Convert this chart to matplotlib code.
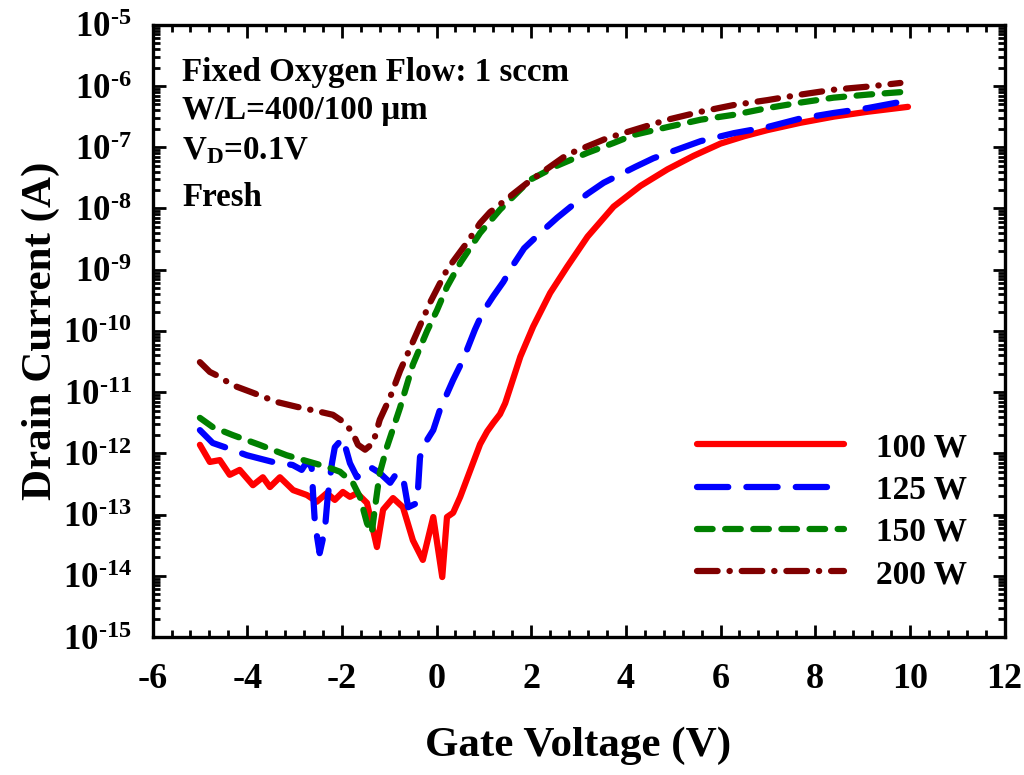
import matplotlib
matplotlib.use("Agg")
import matplotlib.pyplot as plt
import numpy as np
from matplotlib.ticker import FuncFormatter, LogLocator, MultipleLocator

plt.rcParams['font.family'] = ['Liberation Serif', 'DejaVu Serif']
plt.rcParams['font.weight'] = 'bold'
plt.rcParams['mathtext.fontset'] = 'custom'
plt.rcParams['mathtext.rm'] = 'Liberation Serif:bold'
plt.rcParams['mathtext.bf'] = 'Liberation Serif:bold'
plt.rcParams['mathtext.it'] = 'Liberation Serif:bold:italic'
plt.rcParams['axes.unicode_minus'] = False

# 100 W (log10 of drain current)
v100 = [-5.0, -4.79, -4.58, -4.37, -4.16, -3.88, -3.67, -3.52, -3.31, -3.03, -2.74, -2.53, -2.32,
        -2.15, -1.98, -1.83, -1.68, -1.47, -1.26, -1.13, -0.92, -0.71, -0.50, -0.29, -0.07, 0.12,
        0.22, 0.35, 0.50, 0.70, 0.92, 1.07, 1.20, 1.34, 1.45, 1.56, 1.77, 2.04, 2.40, 2.76, 3.19,
        3.74, 4.31, 4.88, 5.43, 6.0, 6.5, 6.99, 7.69, 8.39, 9.11, 9.96]
l100 = [-11.86, -12.14, -12.11, -12.35, -12.27, -12.52, -12.39, -12.55, -12.39, -12.60, -12.68, -12.79,
        -12.65, -12.76, -12.63, -12.71, -12.65, -12.81, -13.53, -12.92, -12.73, -12.88, -13.42, -13.74,
        -13.04, -14.02, -13.04, -12.97, -12.71, -12.30, -11.85, -11.64, -11.50, -11.36, -11.18, -10.92,
        -10.42, -9.93, -9.38, -8.95, -8.46, -7.97, -7.63, -7.36, -7.14, -6.94, -6.82, -6.72, -6.60,
        -6.50, -6.42, -6.34]

# 125 W
v125 = [-5.0, -4.73, -4.43, -4.01, -3.46, -3.04, -2.85, -2.74, -2.64, -2.61, -2.57, -2.47, -2.36,
        -2.30, -2.21, -2.15, -1.98, -1.83, -1.68, -1.41, -1.20, -0.98, -0.84, -0.71, -0.60, -0.41,
        -0.35, -0.20, -0.07, 0.07, 0.35, 0.56, 0.81, 0.98, 1.20, 1.41, 1.62, 1.85, 2.19, 2.55, 2.90,
        3.19, 3.53, 4.20, 4.58, 5.22, 5.58, 6.28, 6.99, 7.69, 8.39, 9.11, 9.80]
l125 = [-11.62, -11.83, -11.91, -12.03, -12.14, -12.19, -12.27, -12.14, -12.22, -12.65, -13.14, -13.63,
        -13.25, -12.71, -12.16, -11.90, -11.75, -12.16, -12.39, -12.22, -12.32, -12.48, -12.32, -12.39,
        -12.88, -12.81, -12.06, -11.78, -11.62, -11.29, -10.80, -10.47, -9.98, -9.69, -9.43, -9.20,
        -8.92, -8.65, -8.40, -8.15, -7.93, -7.76, -7.58, -7.32, -7.18, -7.00, -6.90, -6.77, -6.67,
        -6.53, -6.44, -6.36, -6.26]

# 150 W
v150 = [-5.0, -4.73, -4.31, -3.74, -3.17, -2.68, -2.32, -2.04, -1.77, -1.62, -1.47, -1.37, -1.30,
        -1.20, -1.05, -0.77, -0.50, -0.20, 0.01, 0.22, 0.50, 0.92, 1.34, 1.98, 2.55, 3.19, 3.74,
        4.16, 4.88, 5.58, 6.28, 6.99, 7.69, 8.39, 9.11, 9.80]
l150 = [-11.42, -11.57, -11.70, -11.86, -12.03, -12.14, -12.22, -12.30, -12.48, -12.71, -13.14, -13.30,
        -12.88, -12.32, -11.90, -11.25, -10.55, -10.00, -9.66, -9.28, -8.89, -8.40, -8.02, -7.53,
        -7.30, -7.09, -6.93, -6.80, -6.67, -6.55, -6.47, -6.36, -6.27, -6.19, -6.14, -6.10]

# 200 W
v200 = [-5.0, -4.79, -4.58, -4.33, -3.88, -3.38, -2.95, -2.47, -2.19, -1.94, -1.77, -1.66, -1.51,
        -1.34, -1.20, -0.98, -0.77, -0.41, -0.14, 0.22, 0.65, 0.92, 1.13, 1.92, 2.76, 3.36, 3.61,
        4.16, 4.88, 5.58, 6.28, 6.99, 7.69, 8.39, 9.11, 9.80]
l200 = [-10.51, -10.67, -10.75, -10.88, -11.01, -11.16, -11.24, -11.32, -11.37, -11.50, -11.67, -11.86,
        -11.94, -11.83, -11.45, -11.08, -10.65, -10.02, -9.54, -9.00, -8.55, -8.24, -8.06, -7.58,
        -7.12, -6.93, -6.85, -6.72, -6.55, -6.42, -6.31, -6.23, -6.14, -6.06, -6.01, -5.95]

labels = ['100 W', '125 W', '150 W', '200 W']
colors = ['#ff0000', '#0000ff', '#008000', '#800000']

fig = plt.figure(figsize=(10.24, 7.75), dpi=100)
ax = fig.add_axes([0.149, 0.178, 0.832, 0.790])

lw = 4.5
kw = dict(lw=lw, dash_capstyle='round', solid_capstyle='round',
          dash_joinstyle='round', solid_joinstyle='round')
ax.plot(v100, 10 ** np.array(l100), color=colors[0], ls='-', label=labels[0], **kw)
ax.plot(v125, 10 ** np.array(l125), color=colors[1], ls=(0, (5.0, 2.9)), label=labels[1], **kw)
ax.plot(v150, 10 ** np.array(l150), color=colors[2], ls=(0, (2.5, 2.0)), label=labels[2], **kw)
ax.plot(v200, 10 ** np.array(l200), color=colors[3], ls=(0, (3.3, 1.9, 0.05, 1.9)), label=labels[3], **kw)

ax.set_yscale('log')
ax.set_xlim(-6, 12)
ax.set_ylim(1e-15, 1e-5)
ax.xaxis.set_major_locator(MultipleLocator(2))
ax.xaxis.set_minor_locator(MultipleLocator(0.4))
ax.yaxis.set_major_locator(LogLocator(base=10, numticks=20))
ax.yaxis.set_minor_locator(LogLocator(base=10, subs=np.arange(2, 10), numticks=20))
ax.xaxis.set_major_formatter(FuncFormatter(lambda v, p: '%d' % round(v)))
ax.yaxis.set_major_formatter(FuncFormatter(
    lambda v, p: r'$\mathbf{10^{\text{-}%d}}$' % abs(round(np.log10(v)))))
ax.yaxis.set_minor_formatter(FuncFormatter(lambda v, p: ''))

ax.tick_params(which='both', direction='in', top=True, right=True, width=2)
ax.tick_params(which='major', length=9)
ax.tick_params(which='minor', length=5)
ax.tick_params(axis='x', which='major', labelsize=26, pad=19)
ax.tick_params(axis='y', which='major', labelsize=25, pad=15)
for lab in ax.get_xticklabels() + ax.get_yticklabels():
    lab.set_fontweight('bold')
for s in ax.spines.values():
    s.set_linewidth(2.4)

ax.set_xlabel('Gate Voltage (V)', fontsize=31, fontweight='bold', labelpad=22)
ax.set_ylabel('Drain Current (A)', fontsize=31, fontweight='bold', labelpad=2)

txt = ['Fixed Oxygen Flow: 1 sccm', 'W/L=400/100 \u03bcm', r'V$_\mathbf{D}$=0.1V', 'Fresh']
ys = [0.922, 0.860, 0.795, 0.718]
for t, yy in zip(txt, ys):
    ax.text(0.035, yy, t, transform=ax.transAxes, fontsize=23.8, fontweight='bold', va='center', ha='left')

leg = ax.legend(loc='upper left', bbox_to_anchor=(0.62, 0.362), frameon=False, fontsize=24,
                handlelength=4.4, handletextpad=0.95, labelspacing=0.34, borderpad=0)
for t in leg.get_texts():
    t.set_fontweight('bold')

fig.savefig('out.png', dpi=100)
